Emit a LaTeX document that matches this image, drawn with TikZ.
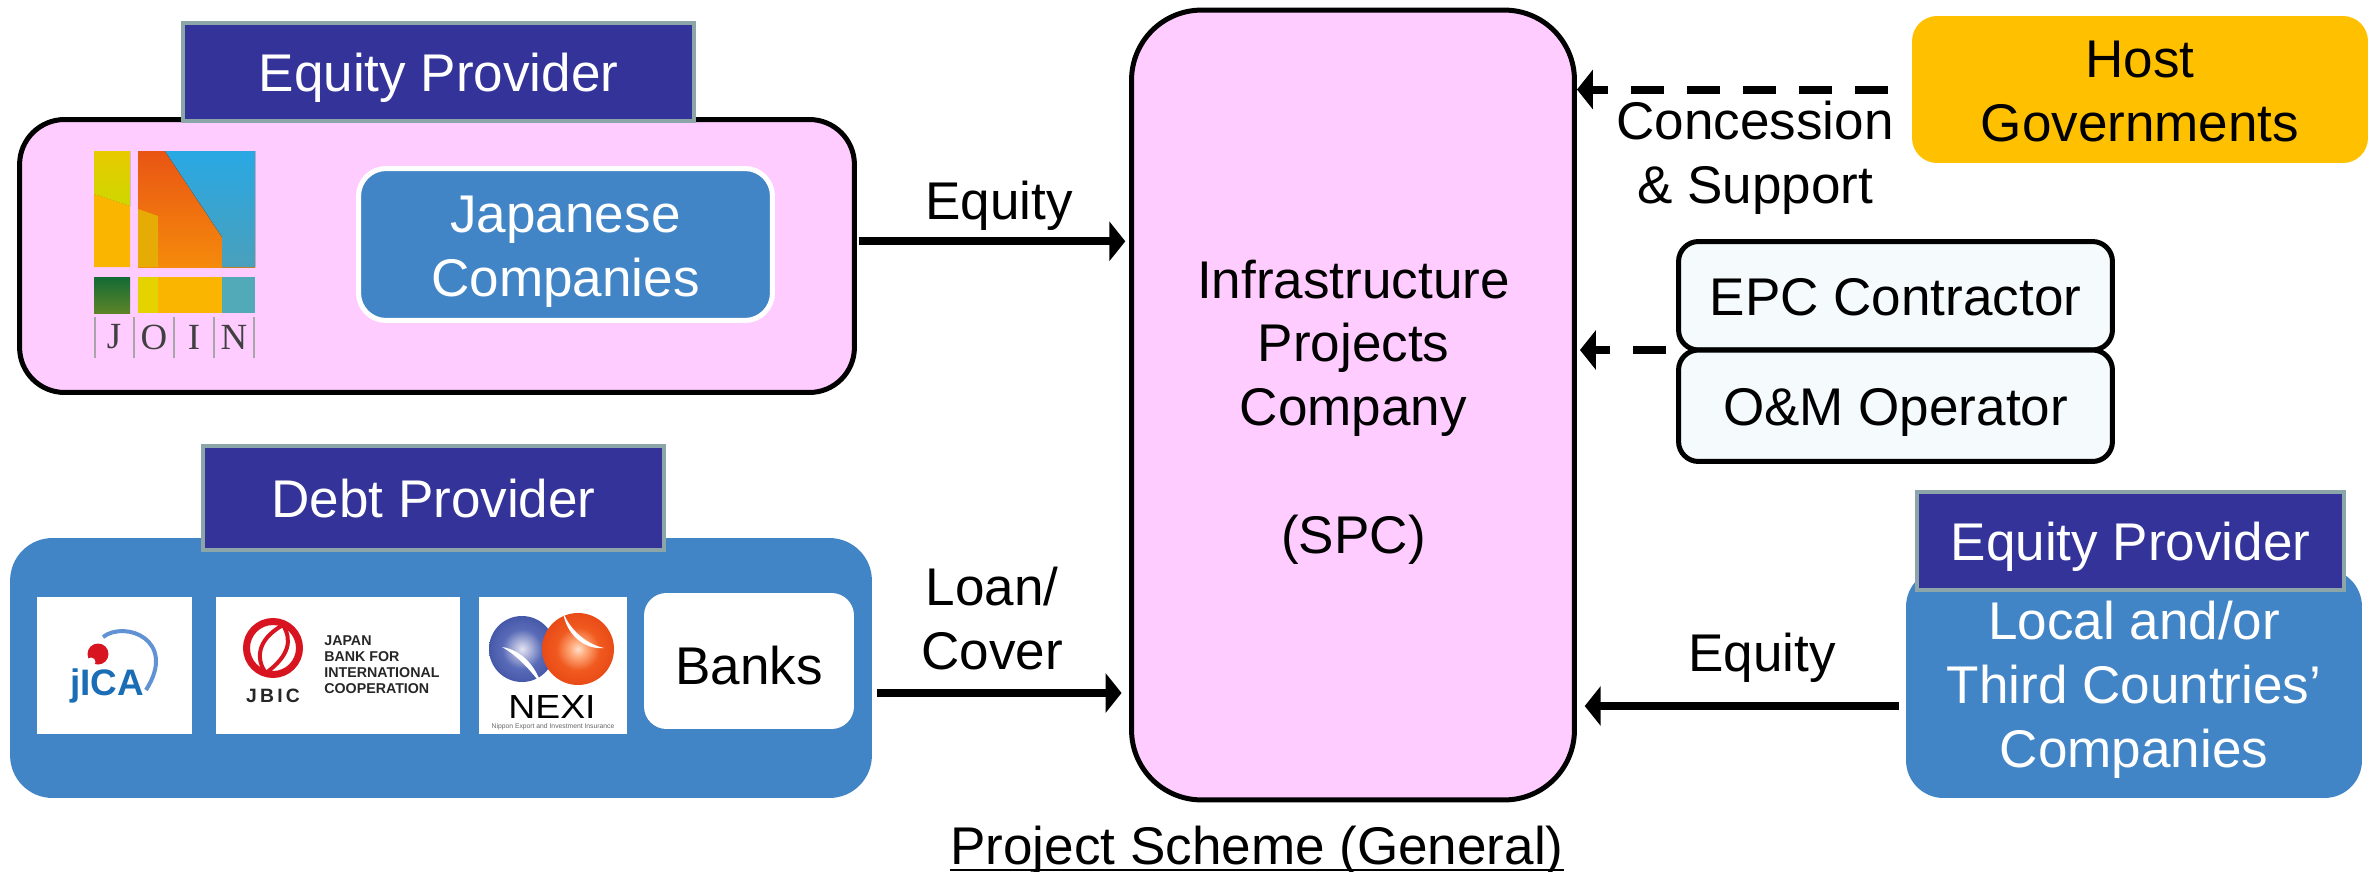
\documentclass[tikz,border=0pt]{standalone}
\usepackage{fontspec}
\setmainfont{Liberation Sans}
\newfontfamily\joinfont{Liberation Serif}
\usetikzlibrary{arrows.meta}
\definecolor{pinkbox}{HTML}{FFCCFF}
\definecolor{bluebox}{HTML}{4285C6}
\definecolor{navybox}{HTML}{333399}
\definecolor{edgegrey}{HTML}{8BA5A8}
\definecolor{hostbox}{HTML}{FFC000}
\definecolor{palebox}{HTML}{F5FAFC}
\definecolor{jicablue}{HTML}{1B6DB5}
\definecolor{jbicred}{HTML}{D7141F}
\definecolor{joinyellow}{HTML}{E5D300}
\definecolor{joinamber}{HTML}{F9B500}
\definecolor{joindark}{HTML}{E6AC05}
\definecolor{jointeal}{HTML}{52A9B8}
\definecolor{joinsky}{HTML}{29A8E3}
\definecolor{joinsea}{HTML}{4AA0BC}
\definecolor{joinred}{HTML}{E95514}
\definecolor{joinorange}{HTML}{F58A0B}
\definecolor{joingreen}{HTML}{136A35}
\definecolor{joinmoss}{HTML}{5C8427}
\pgfdeclareradialshading{nexiblue}{\pgfpoint{0bp}{0bp}}{rgb(0bp)=(0.89,0.89,0.94); rgb(5bp)=(0.72,0.74,0.87); rgb(15bp)=(0.35,0.42,0.72); rgb(35bp)=(0.2,0.27,0.6); rgb(50bp)=(0.2,0.27,0.6)}
\pgfdeclareradialshading{nexired}{\pgfpoint{0bp}{0bp}}{rgb(0bp)=(1,0.88,0.8); rgb(5bp)=(1,0.68,0.5); rgb(15bp)=(0.94,0.35,0.12); rgb(35bp)=(0.89,0.24,0.06); rgb(50bp)=(0.89,0.24,0.06)}
\newcommand{\topfix}{\rule{0pt}{29.2pt}}
\newcommand{\botfix}{\rule[-6.5pt]{0pt}{6.5pt}}

\begin{document}
\begin{tikzpicture}[x=0.02cm,y=-0.02cm]
\tikzstyle{txt}=[font=\fontsize{30.2}{36.4}\selectfont, align=center, inner sep=0pt]
\tikzstyle{header}=[rectangle, draw=edgegrey, fill=navybox, line width=0.09cm, text=white, txt]
\tikzstyle{blue}=[rectangle, fill=bluebox, text=white, txt]
\tikzstyle{logo}=[rectangle, fill=white, minimum height=2.74cm]
\tikzstyle{stage}=[rectangle, draw, line width=0.1cm, rounded corners=0.4cm, fill=palebox, minimum width=8.68cm, txt]
\tikzstyle{flow}=[draw, line width=0.16cm, -{Triangle[length=0.32cm,width=0.78cm]}]
\tikzstyle{dashflow}=[flow, dash pattern=on 0.66cm off 0.46cm]
\tikzstyle{joinletter}=[font=\joinfont\fontsize{21}{21}\selectfont, text=black!75, inner sep=0pt]
\useasboundingbox (0,0) rectangle (2377,872);

% left side
\node[rectangle, draw, line width=0.1cm, rounded corners=0.9cm, fill=pinkbox, minimum width=16.7cm, minimum height=5.46cm] (joinbox) at (437,256) {};
\node[header, minimum width=10.22cm, minimum height=1.96cm] (eqhead) at (438.5,72) {\topfix Equity Provider\botfix};
\node[rectangle, draw=white, line width=0.1cm, rounded corners=0.55cm, fill=bluebox, text=white, txt, minimum width=8.28cm, minimum height=3.04cm] (japan) at (565.5,244.5) {\topfix Japanese\\Companies\botfix};

\node[blue, rounded corners=0.85cm, minimum width=17.24cm, minimum height=5.2cm] (debtbox) at (441,668) {};
\node[header, minimum width=9.22cm, minimum height=2.08cm] (debthead) at (433.5,498) {\topfix Debt Provider\botfix};
\node[logo, minimum width=3.1cm] (jica) at (114.5,665.5) {};
\node[logo, minimum width=4.88cm] (jbic) at (338,665.5) {};
\node[logo, minimum width=2.96cm] (nexi) at (553,665.5) {};
\node[rectangle, rounded corners=0.45cm, fill=white, txt, minimum width=4.2cm, minimum height=2.72cm] (banks) at (749,661) {\topfix\raisebox{-0.08cm}{Banks}\botfix};

% JOIN logo
\fill[top color=joinyellow!90!orange, bottom color=joinyellow!90!green] (94,151) -- (130,151) -- (130,206) -- (94,194) -- cycle;
\fill[joinamber] (94,194) -- (130,206) -- (130,267) -- (94,267) -- cycle;
\fill[top color=joinred, bottom color=joinorange] (138,151) -- (255,151) -- (255,267) -- (138,267) -- cycle;
\fill[top color=joinsky, bottom color=joinsea] (165,151) -- (255,151) -- (255,267) -- (222,267) -- (222,237) -- cycle;
\fill[joindark] (138,209) -- (158,216) -- (158,267) -- (138,267) -- cycle;
\fill[top color=joingreen, bottom color=joinmoss] (94,277) rectangle (130,313);
\fill[joinyellow] (138,277) rectangle (158,313);
\fill[joinamber] (158,277) rectangle (222,313);
\fill[jointeal] (222,277) rectangle (255,313);
\foreach \lx in {95,134,174,214,254}
  \draw[gray!70, line width=0.03cm] (\lx,317) -- (\lx,358);
\node[joinletter] (jl1) at (114,337) {J};
\node[joinletter] (jl2) at (154,337) {O};
\node[joinletter] (jl3) at (194,337) {I};
\node[joinletter] (jl4) at (234,337) {N};

% JICA logo
\draw[cyan!50!blue!65!white, line width=0.08cm] (103,637) .. controls (125,620) and (178,640) .. (146,690);
\fill[jbicred] (98,654) circle (10.5);
\fill[white] (91,662) circle (4.5);
\node[font=\bfseries\fontsize{21}{21}\selectfont, text=jicablue, anchor=base, inner sep=0pt] (jicatxt) at (107,695) {jICA};

% JBIC logo
\draw[jbicred, line width=0.14cm] (273,648) circle (26.5);
\draw[jbicred, line width=0.08cm] (283,625) .. controls (256,640) and (256,660) .. (266,673);
\draw[jbicred, line width=0.08cm] (266,673) .. controls (290,655) and (292,640) .. (283,625);
\node[font=\bfseries\fontsize{11}{11}\selectfont, text=black!85, inner sep=0pt] (jbictxt) at (273,696) {J\,B\,I\,C};
\node[font=\bfseries\fontsize{8.1}{9.1}\selectfont, text=black!85, align=left, anchor=west, inner sep=0pt] (jbicname) at (324,665) {JAPAN\\BANK FOR\\INTERNATIONAL\\COOPERATION};

% NEXI logo
\shade[shading=nexiblue] (522,649) circle (33);
\shade[shading=nexired] (578,649) circle (36);
\fill[white] (502,647) .. controls (522,650) and (536,667) .. (541,684) .. controls (530,670) and (518,656) .. (502,647) -- cycle;
\fill[white] (563,612) .. controls (570,630) and (586,644) .. (604,648) .. controls (584,650) and (566,634) .. (563,612) -- cycle;
\node[font=\fontsize{19}{19}\selectfont, xscale=1.12, transform shape, inner sep=0pt] (nexitxt) at (552,707) {NEXI};
\node[font=\fontsize{3.85}{4}\selectfont, text=black!60, inner sep=0pt] (nexiname) at (553,727) {Nippon Export and Investment Insurance};

% centre
\node[rectangle, draw, line width=0.1cm, rounded corners=1.4cm, fill=pinkbox, minimum width=8.86cm, minimum height=15.8cm] (spc) at (1353,405) {};
\node[txt] (spctxt) at (1353.5,406) {\topfix Infrastructure\\Projects\\Company\\[36.4pt](SPC)\botfix};

% right side
\node[rectangle, rounded corners=0.5cm, fill=hostbox, txt, minimum width=9.12cm, minimum height=2.94cm] (host) at (2140,89.5) {\topfix Host\\Governments\botfix};
\node[stage, minimum height=2.17cm] (epc) at (1895.5,295.75) {\topfix EPC Contractor\botfix};
\node[stage, minimum height=2.23cm] (om) at (1895.5,405.75) {\topfix O\&M Operator\botfix};
\node[blue, rounded corners=0.75cm, minimum width=9.12cm, minimum height=4.58cm] (local) at (2134,683.5) {\topfix Local and/or\\Third Countries’\\Companies\botfix};
\node[header, minimum width=8.54cm, minimum height=1.96cm] (lochead) at (2130.5,541) {\topfix Equity Provider\botfix};

% connectors
\coordinate (eqy) at (1000,241.3);
\coordinate (loany) at (1000,693);
\coordinate (localy) at (1700,706);
\coordinate (stagey) at (1700,350);

\path[flow, shorten <=0.04cm, shorten >=0.075cm] (joinbox.east |- eqy) -- (spc.west |- eqy);
\path[flow, shorten <=0.1cm, shorten >=0.15cm] (debtbox.east |- loany) -- (spc.west |- loany);
\path[flow, shorten <=0.14cm, shorten >=0.155cm] (local.west |- localy) -- (spc.east |- localy);
\path[dashflow, shorten <=0.48cm] (host.west) -- (spc.east |- host.west);
\path[dashflow, shorten <=0.2cm, shorten >=0.06cm] (epc.west |- stagey) -- (spc.east |- stagey);

\node[txt] (eqlabel) at (999,200) {\topfix Equity\botfix};
\node[txt] (loanlabel) at (992,618) {\topfix Loan/\\Cover\botfix};
\node[txt] (conclabel) at (1755,152) {\topfix Concession\\\& Support\botfix};
\node[txt] (localabel) at (1762,652) {\topfix Equity\botfix};
\node[txt] (title) at (1257,845) {\topfix Project Scheme (General)\botfix};
\draw[line width=0.04cm] ([yshift=-0.1cm]title.base west) -- ([yshift=-0.1cm]title.base east);

\end{tikzpicture}
\end{document}
